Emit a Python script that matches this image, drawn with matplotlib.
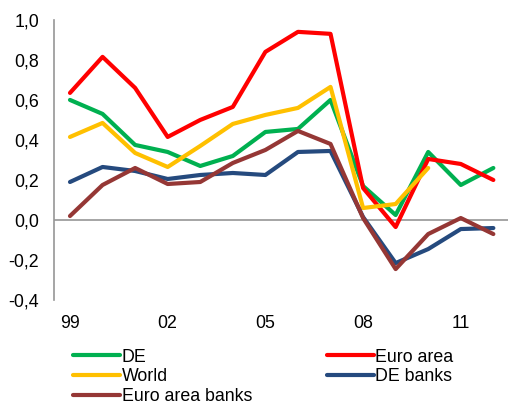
import matplotlib
matplotlib.use("Agg")
import matplotlib.pyplot as plt
from matplotlib.ticker import FuncFormatter

plt.rcParams["font.family"] = ["Liberation Sans", "DejaVu Sans"]

years = list(range(1999, 2013))
year_ticks = [1999, 2002, 2005, 2008, 2011]

de = [0.60, 0.53, 0.375, 0.34, 0.27, 0.32, 0.44, 0.455, 0.60, 0.17, 0.025, 0.34, 0.175, 0.26]
euro_area = [0.635, 0.815, 0.66, 0.415, 0.50, 0.565, 0.84, 0.94, 0.93, 0.16, -0.035, 0.305, 0.28, 0.20]
world = [0.415, 0.485, 0.335, 0.265, 0.37, 0.48, 0.525, 0.56, 0.665, 0.06, 0.08, 0.26]
de_banks = [0.19, 0.265, 0.245, 0.205, 0.225, 0.235, 0.225, 0.34, 0.345, 0.015, -0.215, -0.145, -0.045, -0.04]
euro_area_banks = [0.02, 0.175, 0.26, 0.18, 0.19, 0.285, 0.35, 0.445, 0.38, 0.01, -0.245, -0.07, 0.01, -0.07]

fig = plt.figure(figsize=(5.08, 4.05), dpi=100)
ax = fig.add_axes([0.107, 0.259, 0.893, 0.692])

lw = 3.0
ax.plot(years, de, color="#00B050", lw=lw, label="DE", solid_capstyle="round")
ax.plot(years, euro_area, color="#FF0000", lw=lw, label="Euro area", solid_capstyle="round")
ax.plot(years[:len(world)], world, color="#FFC000", lw=lw, label="World", solid_capstyle="round")
ax.plot(years, de_banks, color="#254A7E", lw=lw, label="DE banks", solid_capstyle="round")
ax.plot(years, euro_area_banks, color="#953735", lw=lw, label="Euro area banks", solid_capstyle="round")

ax.axhline(0, color="#969696", lw=1.2, zorder=0)

ax.set_xlim(1998.52, 2012.45)
ax.set_ylim(-0.4, 1.0)
ax.set_yticks([-0.4, -0.2, 0.0, 0.2, 0.4, 0.6, 0.8, 1.0])
ax.yaxis.set_major_formatter(FuncFormatter(lambda v, p: f"{v:.1f}".replace(".", ",").replace("-0,0", "0,0")))
ax.set_xticks(year_ticks)
ax.set_xticklabels([str(y)[2:] for y in year_ticks])
ax.tick_params(axis="both", length=0, labelsize=12.8)
ax.tick_params(axis="y", pad=11)
ax.tick_params(axis="x", pad=11)

for side in ["top", "right", "bottom"]:
    ax.spines[side].set_visible(False)
ax.spines["left"].set_color("#969696")
ax.spines["left"].set_linewidth(1.2)

handles, labels = ax.get_legend_handles_labels()
order = [0, 2, 4, 1, 3]
fig.legend(
    [handles[i] for i in order],
    [labels[i] for i in order],
    ncol=2,
    loc="upper left",
    bbox_to_anchor=(0.143, 0.139),
    frameon=False,
    fontsize=12.8,
    handlelength=2.65,
    handletextpad=0.1,
    labelspacing=0.15,
    columnspacing=4.2,
    borderpad=0,
    borderaxespad=0,
)

fig.savefig("out.png", dpi=100)
